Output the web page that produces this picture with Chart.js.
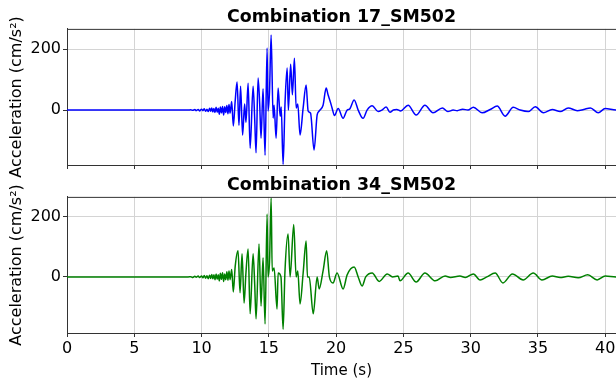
<!DOCTYPE html>
<html>
<head>
<meta charset="utf-8">
<script src="https://cdn.jsdelivr.net/npm/chart.js@4"></script>
<style>
  body { margin: 0; background: #fff; }
  #wrap { position: relative; width: 616px; height: 380px; }
  canvas { position: absolute; left: 0; }
</style>
</head>
<body>
<div id="wrap">
  <canvas id="topChart" width="616" height="190" style="top:0"></canvas>
  <canvas id="bottomChart" width="616" height="210" style="top:170px"></canvas>
</div>
<script>
// titles
const titles = ["Combination 17_SM502", "Combination 34_SM502"];

// x tick values (s) and y tick values (cm/s2)
const xTicks = [0, 5, 10, 15, 20, 25, 30, 35, 40];
const yTicks = [0, 200];

// record 17 : time (s) / acceleration (cm/s2)
const time17 = [0, 9.0, 9.2, 9.35, 9.5, 9.6, 9.75, 9.85, 10.0, 10.1, 10.2, 10.3, 10.4, 10.5, 10.6, 10.68, 10.76, 10.84, 10.92, 11.0, 11.08, 11.16,
  11.24, 11.32, 11.4, 11.48, 11.56, 11.64, 11.72, 11.8, 11.88, 11.96, 12.04, 12.12, 12.24,
  12.36, 12.5, 12.64, 12.78, 12.9, 13.05, 13.2, 13.3, 13.46, 13.61, 13.83, 13.95, 14.05, 14.2, 14.32, 14.42, 14.57, 14.72, 14.87, 14.94, 15.05, 15.17,
  15.32, 15.39, 15.54, 15.69, 15.84, 15.92, 16.06, 16.2, 16.36, 16.45, 16.62, 16.75, 16.9, 17.03, 17.15, 17.32, 17.55, 17.77, 17.92, 18.1, 18.36, 18.59, 18.74,
  19.03, 19.26, 19.4, 19.55, 19.7, 19.88, 20.15, 20.52, 20.82, 21.0, 21.34, 21.64, 22.0, 22.3, 22.68, 23.12, 23.4, 23.72, 24.0, 24.25, 24.5, 24.8, 25.35, 25.95, 26.6,
  27.2, 27.9, 28.3, 28.7, 29.0, 29.4, 29.8, 30.2, 30.85, 31.45, 31.97, 32.56, 33.16, 33.68, 34.28, 34.8, 35.4, 36.06, 36.65, 37.25, 37.92, 38.4, 38.9, 39.48, 40.0, 40.8, 41.5];
const accel17 = [0, 0, 1, -1, 2, -2, 2, -3, 3, -2, 4, -4, 3, -5, 6, -4, 7, -6, 5, -8, 9, -7,
  6, -14, 10, -9, 12, -16, 11, -8, 15, -12, 18, -10, 28,
  -52, 30, 92, -50, 78, -82, 20, -40, 88, -125, 78, -30, -140, 105, 20, -92, 70, -148, 203, -3, 60, 246,
  -26, 16, -92, 72, -20, 10, -178, 20, 138, 0, 150, 50, 170, 7, 20, -82, 7, 82, -3, -10, -131, -16, -3,
  16, 72, 50, 30, 7, -18, 5, -27, 0, 3, 33, 0, -27, 0, 14, -5, 0, 10, -7, 0, 2, -3, 16, -16, 16,
  -9, 7, -5, 0, -2, 3, 0, 9, -9, 2, 13, -20, 9, 0, -5, 11, -9, 2, -5, 7, -2, 2, 7, -9, 5, 0, 2];

// record 34
const time34 = [0, 9.0, 9.2, 9.35, 9.5, 9.6, 9.75, 9.85, 10.0, 10.1, 10.2, 10.3, 10.4, 10.5, 10.6, 10.68, 10.76, 10.84, 10.92, 11.0, 11.08, 11.16,
  11.24, 11.32, 11.4, 11.48, 11.56, 11.64, 11.72, 11.8, 11.88, 11.96, 12.04, 12.12, 12.24,
  12.36, 12.5, 12.71, 12.86, 13.01, 13.16, 13.3, 13.46, 13.61, 13.83, 13.95, 14.05, 14.27, 14.42, 14.57, 14.72, 14.87, 14.94, 15.05, 15.17, 15.25,
  15.39, 15.61, 15.69, 15.9, 16.06, 16.2, 16.43, 16.58, 16.85, 17.03, 17.15, 17.32, 17.55, 17.77, 17.87, 18.0, 18.3, 18.59, 18.74, 19.03, 19.3, 19.5,
  19.77, 20.07, 20.52, 20.82, 21.34, 21.64, 21.93, 22.2, 22.68, 23.2, 23.8, 24.2, 24.6, 24.75, 25.35, 25.95, 26.6, 27.36, 28.1, 28.5, 29.2, 29.6, 30.2, 30.7,
  31.2, 31.82, 32.4, 33.1, 33.9, 34.65, 35.3, 36.06, 36.65, 37.25, 37.99, 38.7, 39.4, 40.0, 40.8, 41.5];
const accel34 = [0, 0, 1, -2, 2, -1, 3, -2, 3, -3, 5, -4, 4, -6, 6, -5, 8, -6, 7, -9, 10, -8,
  7, -13, 12, -8, 14, -15, 10, -9, 17, -11, 20, -9, 25,
  -50, 35, 87, -53, 77, -87, 15, 93, -123, 77, -25, -140, 110, -97, 64, -157, 210, 0, 50, 263, 20,
  30, -107, 13, 0, -175, 20, 143, 0, 175, 0, 20, -90, 13, 120, 0, 0, -123, 0, -40, 20, 87, 0,
  -20, 13, -40, 7, 33, 0, -30, 0, 13, -15, 10, 0, 3, -13, 13, -17, 13, -13, 3, -2, 3, -2, 10, -10,
  0, 13, -20, 10, -10, 13, -10, 3, -2, 2, -3, 7, -10, 3, 0, 0];

const font = "'DejaVu Sans', sans-serif";

function toPoints(t, a) {
  return t.map((x, i) => ({ x: x, y: a[i] }));
}

// top border line of the axes box
const frameTop = {
  id: 'frameTop',
  afterDraw(chart) {
    const { ctx, chartArea } = chart;
    ctx.save();
    ctx.strokeStyle = '#333';
    ctx.lineWidth = 1;
    ctx.beginPath();
    ctx.moveTo(chartArea.left, chartArea.top + 0.5);
    ctx.lineTo(chartArea.right, chartArea.top + 0.5);
    ctx.stroke();
    ctx.restore();
  }
};

function makeChart(id, title, points, color, isBottom) {
  new Chart(document.getElementById(id), {
    type: 'line',
    data: {
      datasets: [{
        data: points,
        borderColor: color,
        borderWidth: 1.5,
        pointRadius: 0,
        cubicInterpolationMode: 'monotone'
      }]
    },
    plugins: [frameTop],
    options: {
      responsive: false,
      animation: false,
      devicePixelRatio: 1,
      layout: { padding: 0 },
      scales: {
        x: {
          type: 'linear',
          min: 0,
          max: 40.8,
          afterBuildTicks: s => { s.ticks = xTicks.map(v => ({ value: v })); },
          afterFit: s => { s.height = isBottom ? 47 : 25; s.paddingLeft = 0; s.paddingRight = 0; },
          ticks: {
            display: isBottom,
            includeBounds: false,
            maxRotation: 0,
            padding: 2,
            color: '#000',
            font: { family: font, size: 16 }
          },
          grid: { color: '#d4d4d4', tickColor: '#333', tickLength: 4 },
          border: { color: '#333' },
          title: {
            display: isBottom,
            text: 'Time (s)',
            color: '#000',
            font: { family: font, size: 15 },
            padding: { top: 4, bottom: 0 }
          }
        },
        y: {
          min: isBottom ? -187 : -180,
          max: isBottom ? 267 : 266,
          afterBuildTicks: s => { s.ticks = yTicks.map(v => ({ value: v })); },
          afterFit: s => { s.width = 67; s.paddingTop = 0; s.paddingBottom = 0; },
          ticks: {
            padding: 2,
            color: '#000',
            font: { family: font, size: 16 }
          },
          grid: { color: '#d4d4d4', tickColor: '#333', tickLength: 4 },
          border: { color: '#333' },
          title: {
            display: true,
            text: 'Acceleration (cm/s²)',
            color: '#000',
            font: { family: font, size: 16 },
            padding: { top: 7, bottom: 0 }
          }
        }
      },
      plugins: {
        legend: { display: false },
        tooltip: { enabled: false },
        title: {
          display: true,
          text: title,
          fullSize: false,
          color: '#000',
          font: { family: font, size: 17.4, weight: 'bold' },
          padding: { top: isBottom ? 5 : 7, bottom: 1 }
        }
      }
    }
  });
}

makeChart('topChart', titles[0], toPoints(time17, accel17), '#0000ff', false);
makeChart('bottomChart', titles[1], toPoints(time34, accel34), '#008000', true);
</script>
</body>
</html>
